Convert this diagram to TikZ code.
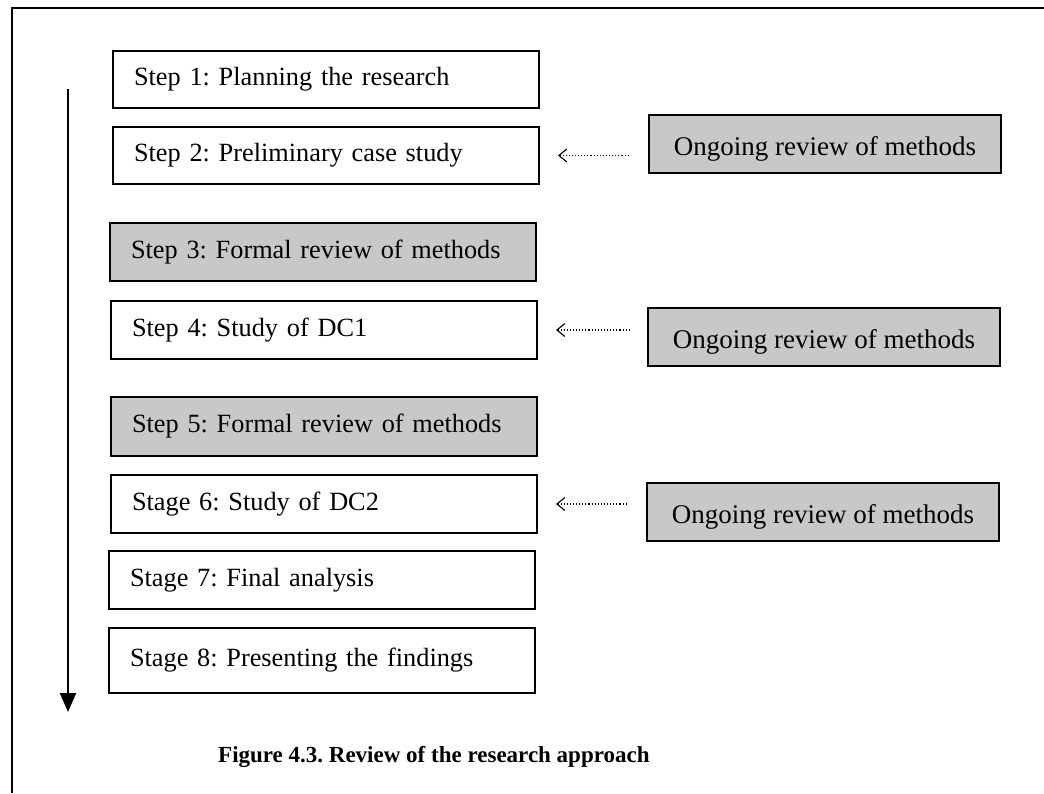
\documentclass[tikz,border=0pt]{standalone}
\usepackage{fontspec}
\setmainfont{Liberation Serif}
\usetikzlibrary{arrows.meta}
\definecolor{reviewgray}{RGB}{200,200,200}
\tikzset{
  boxfont/.style={font=\frenchspacing\fontsize{26.3}{31}\selectfont},
  sidefont/.style={font=\frenchspacing\fontsize{27}{32}\selectfont},
  stepbox/.style={draw, line width=2pt, boxfont, anchor=north west,
    inner xsep=21pt, inner ysep=0pt, text width=384pt, align=left,
    text height=18pt, text depth=6pt, minimum height=#1},
  formalbox/.style={stepbox=#1, fill=reviewgray},
  ongoingbox/.style={draw, line width=2pt, fill=reviewgray, sidefont, anchor=north west,
    inner sep=0pt, minimum width=352pt, minimum height=58pt,
    text height=22pt, text depth=0pt},
  review/.style={dotted, line width=1.1pt, {Straight Barb[length=8pt,width=13pt]}-,
    shorten <=18pt, shorten >=18pt},
  flow/.style={line width=2pt, -{Triangle[length=19pt,width=16pt]}},
  frameline/.style={line width=1.8pt}
}
\begin{document}
\begin{tikzpicture}[x=1pt,y=-1pt]
  \useasboundingbox (0,0) rectangle (1044,793);

  % outer frame (top and left edges)
  \coordinate (framebl) at (12,793);
  \coordinate (frametl) at (12,8);
  \coordinate (frametr) at (1044,8);
  \draw[frameline] (framebl) -- (frametl) -- (frametr);

  % sequence of steps
  \node[stepbox=57pt] (s1) at (112,50) {Step 1: Planning the research};
  \node[stepbox=57pt] (s2) at (112,126) {Step 2: Preliminary case study};
  \node[formalbox=58pt] (s3) at (109,222) {Step 3: Formal review of methods};
  \node[stepbox=58pt] (s4) at (110,300) {Step 4: Study of DC1};
  \node[formalbox=59pt] (s5) at (110,396) {Step 5: Formal review of methods};
  \node[stepbox=58pt] (s6) at (110,474) {Stage 6: Study of DC2};
  \node[stepbox=58pt] (s7) at (108,550) {Stage 7: Final analysis};
  \node[stepbox=65pt] (s8) at (108,627) {Stage 8: Presenting the findings};

  % ongoing reviews alongside the studies
  \node[ongoingbox] (og1) at (648,114) {Ongoing review of methods};
  \node[ongoingbox] (og2) at (647,307) {Ongoing review of methods};
  \node[ongoingbox] (og3) at (646,482) {Ongoing review of methods};

  \draw[review] (s2.east) -- (s2.east -| og1.west);
  \draw[review] (s4.east) -- (s4.east -| og2.west);
  \draw[review] (s6.east) -- (s6.east -| og3.west);

  % direction of the process
  \coordinate (flowtop) at (68,89);
  \coordinate (flowend) at (68,712);
  \draw[flow] (flowtop) -- (flowend);

  % caption
  \node[anchor=base west, inner sep=0pt,
        font=\frenchspacing\bfseries\fontsize{23}{28}\selectfont]
    (caption) at (218,762) {Figure 4.3. Review of the research approach};
\end{tikzpicture}
\end{document}
